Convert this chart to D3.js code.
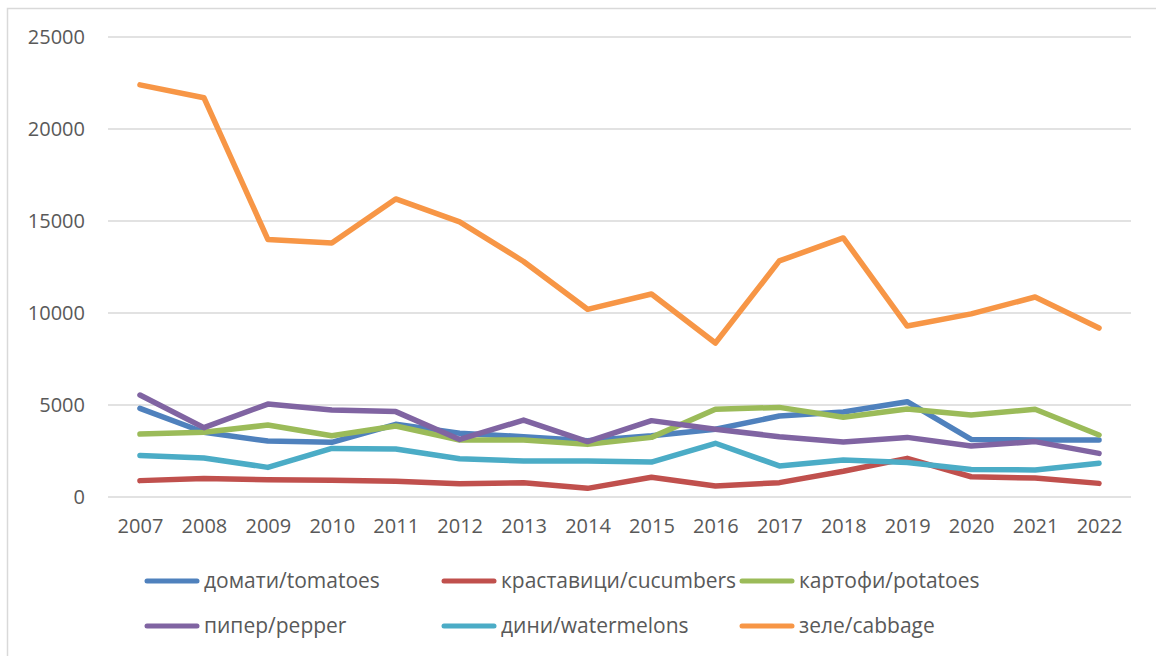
<!DOCTYPE html>
<html>
<head>
<meta charset="utf-8">
<script src="https://cdn.jsdelivr.net/npm/d3@7"></script>
<style>
  body { margin: 0; background: #fff; }
  svg text { font-family: "Open Sans", sans-serif; fill: #595959; }
</style>
</head>
<body>
<svg id="chart" width="1156" height="656"></svg>
<script>
// data
var years = ["2007","2008","2009","2010","2011","2012","2013","2014","2015","2016","2017","2018","2019","2020","2021","2022"];
var yTicks = [0, 5000, 10000, 15000, 20000, 25000];

var tomatoes    = [4820, 3520, 3040, 2970, 3950, 3460, 3280, 3060, 3330, 3680, 4400, 4620, 5180, 3130, 3100, 3100];
var cucumbers   = [890, 1000, 940, 910, 850, 720, 780, 470, 1070, 600, 780, 1400, 2100, 1100, 1030, 740];
var potatoes    = [3420, 3520, 3910, 3330, 3860, 3100, 3100, 2860, 3240, 4770, 4870, 4330, 4780, 4460, 4770, 3370];
var pepper      = [5540, 3770, 5050, 4730, 4640, 3130, 4180, 3010, 4150, 3680, 3280, 2990, 3240, 2770, 3010, 2370];
var watermelons = [2260, 2120, 1610, 2640, 2610, 2080, 1960, 1960, 1900, 2920, 1690, 2010, 1870, 1500, 1470, 1830];
var cabbage     = [22400, 21700, 14000, 13800, 16200, 14950, 12800, 10200, 11030, 8370, 12830, 14080, 9290, 9950, 10870, 9180];

var series = [
  {name: "домати/tomatoes",       values: tomatoes,    color: "#4F81BD"},
  {name: "краставици/cucumbers",  values: cucumbers,   color: "#C0504D"},
  {name: "картофи/potatoes",      values: potatoes,    color: "#9BBB59"},
  {name: "пипер/pepper",          values: pepper,      color: "#8064A2"},
  {name: "дини/watermelons",      values: watermelons, color: "#4BACC6"},
  {name: "зеле/cabbage",          values: cabbage,     color: "#F79646"}
];

var svg = d3.select("#chart");

// outer chart border
svg.append("rect")
    .attr("x", 7.5).attr("y", 8.5)
    .attr("width", 1170).attr("height", 670)
    .attr("fill", "none")
    .attr("stroke", "#d9d9d9")
    .attr("stroke-width", 1.5);

var x = d3.scalePoint().domain(years).range([108, 1131]).padding(0.5);
var y = d3.scaleLinear().domain([0, 25000]).range([497, 37]);

// gridlines
svg.append("g")
    .selectAll("line")
    .data(yTicks)
    .enter().append("line")
      .attr("x1", 108).attr("x2", 1131)
      .attr("y1", function(d) { return y(d); })
      .attr("y2", function(d) { return y(d); })
      .attr("stroke", "#d9d9d9")
      .attr("stroke-width", 1.5);

// y axis labels
var yAxis = svg.append("g")
    .attr("transform", "translate(85,0)")
    .call(d3.axisLeft(y).tickValues(yTicks).tickSize(0).tickPadding(0).tickFormat(d3.format("d")));
yAxis.select(".domain").remove();
yAxis.selectAll("text")
    .attr("font-size", 20)
    .style("font-family", "'Open Sans', sans-serif")
    .attr("fill", "#595959");

// x axis labels
var xAxis = svg.append("g")
    .attr("transform", "translate(0,497)")
    .call(d3.axisBottom(x).tickSize(0).tickPadding(22));
xAxis.select(".domain").remove();
xAxis.selectAll("text")
    .attr("font-size", 20)
    .style("font-family", "'Open Sans', sans-serif")
    .attr("fill", "#595959");

// lines
var line = d3.line()
    .x(function(d, i) { return x(years[i]); })
    .y(function(d) { return y(d); });

svg.append("g")
    .selectAll("path")
    .data(series)
    .enter().append("path")
      .attr("d", function(d) { return line(d.values); })
      .attr("fill", "none")
      .attr("stroke", function(d) { return d.color; })
      .attr("stroke-width", 5.5)
      .attr("stroke-linejoin", "round")
      .attr("stroke-linecap", "round");

// legend, 3 columns x 2 rows
var colX = [145, 442, 740];
var rowY = [581, 626];

var leg = svg.append("g")
    .selectAll("g")
    .data(series)
    .enter().append("g")
      .attr("transform", function(d, i) {
        return "translate(" + colX[i % 3] + "," + rowY[Math.floor(i / 3)] + ")";
      });

leg.append("line")
    .attr("x1", 2).attr("x2", 52)
    .attr("y1", 0).attr("y2", 0)
    .attr("stroke", function(d) { return d.color; })
    .attr("stroke-width", 5)
    .attr("stroke-linecap", "round");

leg.append("text")
    .attr("x", 59)
    .attr("y", 0)
    .attr("dy", "0.35em")
    .attr("font-size", 21)
    .text(function(d) { return d.name; });
</script>
</body>
</html>
